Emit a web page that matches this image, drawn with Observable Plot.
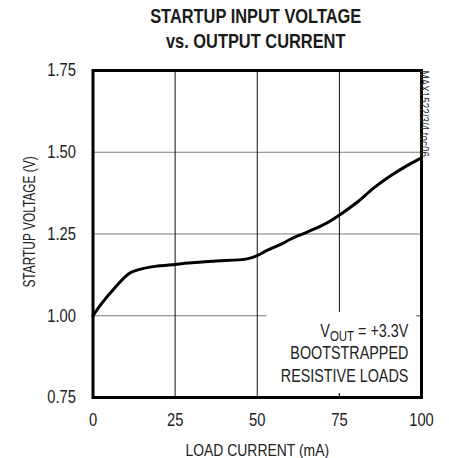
<!DOCTYPE html>
<html>
<head>
<meta charset="utf-8">
<script src="https://cdn.jsdelivr.net/npm/d3@7"></script>
<script src="https://cdn.jsdelivr.net/npm/@observablehq/plot@0.6"></script>
<style>
  html, body { margin: 0; padding: 0; background: #fff; }
  body { width: 449px; height: 458px; overflow: hidden; font-family: "Liberation Sans", Arial, sans-serif; color: #222; }
  #title { box-sizing: border-box; height: 60px; padding: 4px 0 0 63px; text-align: center; font-weight: bold; font-size: 20px; line-height: 24.7px; color: #1a1a1a; }
  #title span { display: inline-block; transform: scaleX(0.82); transform-origin: 50% 50%; white-space: nowrap; }
  #chart svg { display: block; }
</style>
</head>
<body>
<div id="title"><span>STARTUP INPUT VOLTAGE<br>vs. OUTPUT CURRENT</span></div>
<div id="chart"></div>
<script>
// Data
const loadCurrent = [0, 2.6, 6.8, 10.8, 13.9, 18.9, 25.0, 29.1, 36.8, 46.9, 50.0, 53.0, 57.1, 60.1, 65.2, 70.3, 75.3, 80.4, 85.5, 90.6, 95.6, 100];
const startupVoltage = [1.00, 1.037, 1.087, 1.128, 1.141, 1.151, 1.157, 1.161, 1.167, 1.174, 1.184, 1.200, 1.218, 1.234, 1.256, 1.279, 1.310, 1.347, 1.391, 1.428, 1.459, 1.483];
const xTicks = [0, 25, 50, 75, 100];
const yTicks = [0.75, 1.00, 1.25, 1.50, 1.75];
const xGrid = [25, 50, 75];
const yGrid = [1.00, 1.25, 1.50];
const noteParts = ["V", "OUT", " = +3.3V"];
const noteLines = ["VOUT = +3.3V", "BOOTSTRAPPED", "RESISTIVE LOADS"];
const noteY = [0.9335, 0.869, 0.796];
const noteBox = [{x1: 53, x2: 98.6, y1: 0.762, y2: 1.01}];
const sideNote = ["MAX1522/3/4 toc06"];
const xLabel = "LOAD CURRENT (mA)";
const yLabel = "STARTUP VOLTAGE (V)";

const curve = loadCurrent.map((x, i) => ({x, y: startupVoltage[i]}));
const notes = noteLines.map((t, i) => ({t, y: noteY[i]}));
const FONT = '"Liberation Sans", Arial, sans-serif';
const NARROW = 0.82;

const plot = Plot.plot({
  width: 449,
  height: 398,
  marginTop: 10,
  marginBottom: 61,
  marginLeft: 92.5,
  marginRight: 28,
  style: {fontFamily: FONT, color: "#222", background: "white"},
  x: {domain: [0, 100]},
  y: {domain: [0.75, 1.75]},
  marks: [
    Plot.ruleY(yGrid, {stroke: "#7a7a7a", strokeWidth: 1.2}),
    Plot.ruleX(xGrid, {stroke: "#111", strokeWidth: 1}),
    Plot.rect(noteBox, {x1: "x1", x2: "x2", y1: "y1", y2: "y2", fill: "white"}),
    Plot.ruleX([75], {y1: 0.75, y2: noteBox[0].y1, stroke: "#111", strokeWidth: 1}),
    Plot.ruleY([1.00], {x1: noteBox[0].x2, x2: 100, stroke: "#7a7a7a", strokeWidth: 1.2}),
    Plot.line(curve, {x: "x", y: "y", curve: "catmull-rom", stroke: "#000", strokeWidth: 3}),
    Plot.frame({stroke: "#000", strokeWidth: 3}),
    Plot.axisX({ticks: xTicks, tickSize: 0, tickPadding: 16, fontSize: 18, label: xLabel, labelAnchor: "center", labelArrow: "none", labelOffset: 58}),
    Plot.axisY({ticks: yTicks, tickFormat: d3.format(".2f"), tickSize: 0, tickPadding: 17, fontSize: 18, label: yLabel, labelAnchor: "center", labelArrow: "none", labelOffset: 69}),
    Plot.text(notes, {x: 96, y: "y", text: "t", textAnchor: "end", lineAnchor: "bottom", fontSize: 17.5, fill: "#222"}),
    Plot.text(sideNote, {frameAnchor: "top-right", rotate: 90, textAnchor: "start", dx: 7.5, fontSize: 12, fill: "#333"})
  ]
});
document.getElementById("chart").appendChild(plot);

const sel = d3.select(plot);
const byText = (s) => sel.selectAll("text").filter(function () { return this.textContent === s; });

// subscript in the first note line
byText(noteLines[0]).each(function () {
  const t = d3.select(this);
  t.text(null);
  t.append("tspan").text(noteParts[0]);
  t.append("tspan").attr("font-size", 14).attr("dy", 3).text(noteParts[1]);
  t.append("tspan").attr("dy", -3).text(noteParts[2]);
});

// condense all text to a narrow face (scale along the text direction, anchor kept)
function condense(el, k) {
  if (!el.hasAttribute("transform") && (el.hasAttribute("x") || el.hasAttribute("y"))) {
    const x = +el.getAttribute("x") || 0, y = +el.getAttribute("y") || 0;
    el.removeAttribute("x"); el.removeAttribute("y");
    el.setAttribute("transform", `translate(${x},${y})`);
  }
  el.setAttribute("transform", (el.getAttribute("transform") || "") + ` scale(${k},1)`);
}
sel.selectAll("text").each(function () {
  if (this.textContent === yLabel) {
    this.setAttribute("font-size", 16);
    this.setAttribute("transform", "translate(0,-12) " + (this.getAttribute("transform") || ""));
    condense(this, 0.745);
  } else if (this.textContent === xLabel) {
    this.setAttribute("font-size", 17);
    condense(this, NARROW);
  } else {
    condense(this, NARROW);
  }
});
</script>
</body>
</html>
